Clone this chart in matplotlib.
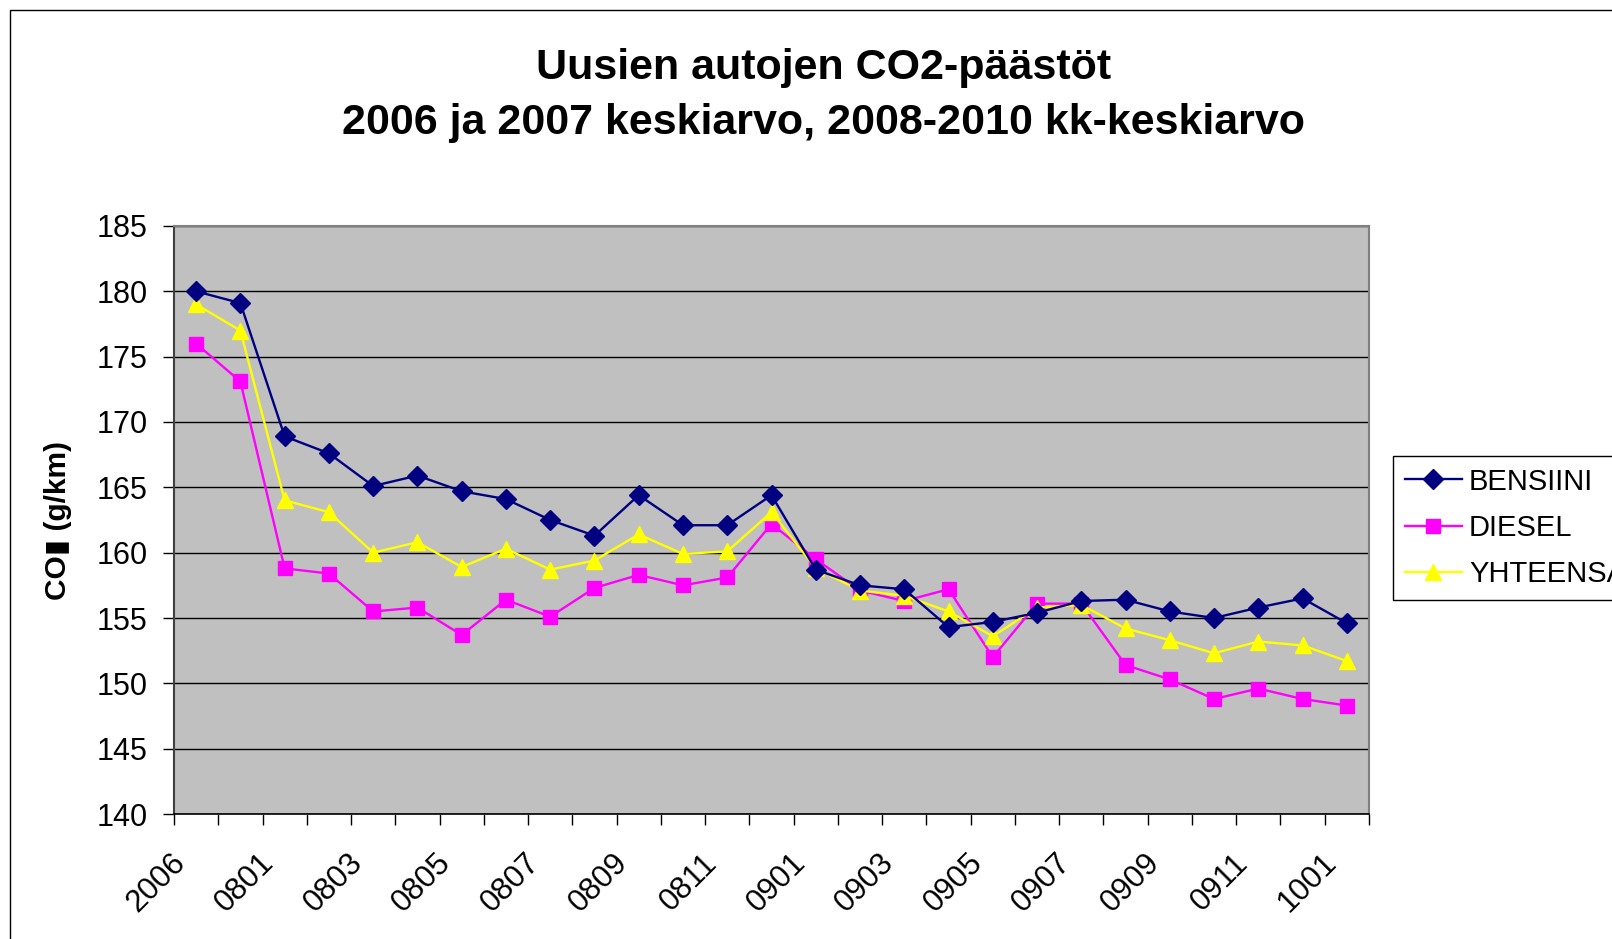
import matplotlib
matplotlib.use("Agg")
import matplotlib.pyplot as plt
import numpy as np
from matplotlib.patches import Rectangle
from matplotlib.transforms import ScaledTranslation

plt.rcParams['font.family'] = ['Liberation Sans', 'DejaVu Sans']

categories = ['2006', '2007',
              '0801', '0802', '0803', '0804', '0805', '0806', '0807', '0808', '0809', '0810', '0811', '0812',
              '0901', '0902', '0903', '0904', '0905', '0906', '0907', '0908', '0909', '0910', '0911', '0912',
              '1001']

bensiini = [180.0, 179.1, 168.9, 167.6, 165.1, 165.9, 164.7, 164.1, 162.5, 161.3,
            164.4, 162.1, 162.1, 164.4, 158.7, 157.5, 157.2, 154.3, 154.7, 155.4,
            156.3, 156.4, 155.5, 155.0, 155.8, 156.5, 154.6]
diesel = [176.0, 173.1, 158.8, 158.4, 155.5, 155.8, 153.7, 156.4, 155.1, 157.3,
          158.3, 157.5, 158.1, 162.2, 159.5, 157.1, 156.3, 157.2, 152.0, 156.1,
          156.1, 151.4, 150.3, 148.8, 149.6, 148.8, 148.3]
yhteensa = [179.0, 177.0, 164.0, 163.1, 160.0, 160.8, 158.9, 160.3, 158.7, 159.4,
            161.4, 159.9, 160.1, 163.1, 158.8, 157.1, 156.7, 155.5, 153.6, 155.8,
            156.0, 154.2, 153.3, 152.3, 153.2, 152.9, 151.7]

series_names = ['BENSIINI', 'DIESEL', 'YHTEENSÄ']
y_ticks = [140, 145, 150, 155, 160, 165, 170, 175, 180, 185]

W, H = 1612, 939
fig = plt.figure(figsize=(W / 100, H / 100), dpi=100)
fig.patch.set_facecolor('white')

# outer chart border
fig.add_artist(Rectangle((10 / W, -0.1), 1.2, 1 - 10 / H + 0.1, transform=fig.transFigure,
                         fill=False, edgecolor='black', linewidth=1.0))

left, right, top, bottom = 174 / W, 1369 / W, 1 - 226 / H, 1 - 814 / H
ax = fig.add_axes([left, bottom, right - left, top - bottom])
ax.set_facecolor('#C0C0C0')

x = np.arange(len(categories))
ax.plot(x, bensiini, color='#000080', marker='D', markersize=10, linewidth=1.7,
        label=series_names[0], zorder=5)
ax.plot(x, diesel, color='#FF00FF', marker='s', markersize=9.5, linewidth=1.7,
        label=series_names[1], zorder=4)
ax.plot(x, yhteensa, color='#FFFF00', marker='^', markersize=12, linewidth=1.7,
        label=series_names[2], zorder=4)

ax.set_xlim(-0.5, len(categories) - 0.5)
ax.set_ylim(y_ticks[0], y_ticks[-1])
ax.set_yticks(y_ticks)
ax.yaxis.grid(True, color='black', linewidth=1.0)
ax.set_axisbelow(True)
ax.tick_params(axis='y', direction='out', length=8, width=1, pad=11, labelsize=22)

# category boundaries as major ticks, labels on every other category (minor)
ax.set_xticks(np.arange(-0.5, len(categories), 1))
ax.set_xticklabels([])
ax.tick_params(axis='x', which='major', direction='out', length=8, width=1)
lab_idx = list(range(0, len(categories), 2))
ax.set_xticks(lab_idx, [categories[i] for i in lab_idx], minor=True)
ax.tick_params(axis='x', which='minor', length=0, pad=32, labelsize=22.5)
for lab in ax.get_xticklabels(minor=True):
    lab.set_rotation(45)
    lab.set_ha('right')
    lab.set_va('center')
    lab.set_rotation_mode('anchor')
    lab.set_transform(lab.get_transform() + ScaledTranslation(-0.15, 0, fig.dpi_scale_trans))

for side in ['top', 'right']:
    ax.spines[side].set_color('#808080')
    ax.spines[side].set_linewidth(1.5)
ax.spines['left'].set_color('#404040')
ax.spines['left'].set_linewidth(1.5)
ax.spines['bottom'].set_color('black')
ax.spines['bottom'].set_linewidth(1.2)

ax.set_ylabel('CO▮ (g/km)', fontsize=21.5, fontweight='bold')
ax.yaxis.set_label_coords((72 - 174) / 1195, 0.5)

fig.text(0.511, 1 - 68 / H, 'Uusien autojen CO2-päästöt', ha='center', va='center',
         fontsize=31, fontweight='bold')
fig.text(0.511, 1 - 123 / H, '2006 ja 2007 keskiarvo, 2008-2010 kk-keskiarvo', ha='center',
         va='center', fontsize=31, fontweight='bold')

leg = ax.legend(loc='upper left', bbox_to_anchor=(1393 / W, 1 - 456 / H),
                bbox_transform=fig.transFigure, frameon=True, fancybox=False,
                edgecolor='black', framealpha=1, fontsize=21, handlelength=1.95,
                handletextpad=0.25, labelspacing=0.62, borderpad=0.4, borderaxespad=0)
leg.get_frame().set_linewidth(1.0)

fig.savefig('out.png', dpi=100, facecolor='white')
